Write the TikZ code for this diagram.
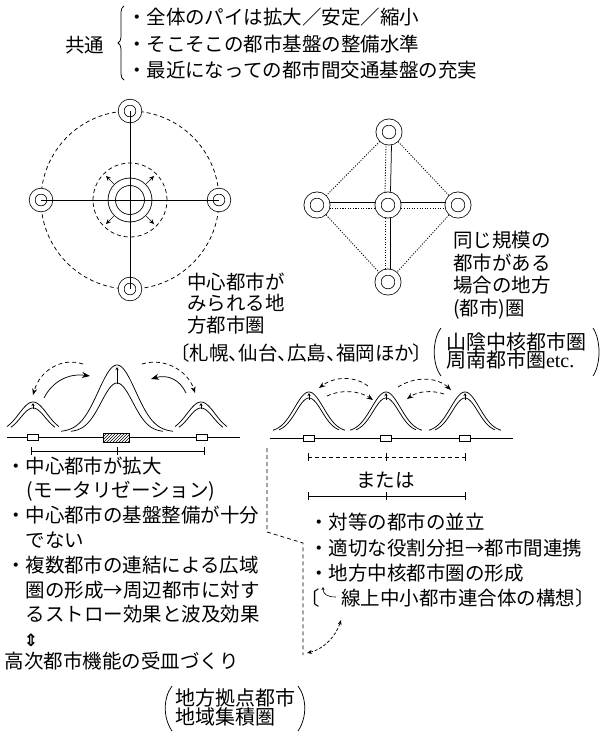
\documentclass[tikz,border=0pt]{standalone}
\usepackage{fontspec}
\setmainfont{Noto Sans CJK JP}
\newfontfamily\jppalt{Noto Sans CJK JP}[RawFeature=+palt]
\newfontfamily\latfont{Liberation Serif}
\newfontfamily\symfont{DejaVu Sans}
\usetikzlibrary{arrows.meta,decorations.pathreplacing,patterns,calc}
\begin{document}
\begin{tikzpicture}[x=1pt,y=-1pt,line width=0.75pt,
  every node/.style={inner sep=0pt,outer sep=0pt},
  txt/.style={anchor=base west,font=\fontsize{19.5}{22}\selectfont},
  ptxt/.style={anchor=base west,font=\fontsize{20}{20}\selectfont},
  ring/.style={circle,draw,double,fill=white,line width=0.75pt},
  satring/.style={ring,minimum size=17.7pt,double distance=5pt,outer sep=3.2pt},
  cenring/.style={ring,minimum size=36.5pt,double distance=6.6pt,line width=0.8pt},
  dring/.style={ring,minimum size=20pt,double distance=5.3pt,outer sep=3.3pt},
  dsh/.style={dash pattern=on 4pt off 3pt},
  dotline/.style={line width=0.85pt,dash pattern=on 1.1pt off 1.5pt},
  bigtip/.style={-{Stealth[length=8pt,width=6pt]}},
  dtip/.style={-{Stealth[length=6.5pt,width=5pt]}},
  tinytip/.style={-{Stealth[length=3pt,width=3pt]}},
  radtip/.style={-{Stealth[length=5pt,width=4.5pt]}},
  smallrect/.style={draw,fill=white,minimum width=11pt,minimum height=6pt,line width=0.6pt},
  hatchrect/.style={draw,preaction={fill=white},pattern=north east lines,minimum width=26pt,minimum height=9pt,line width=0.6pt}
]
\useasboundingbox (0,0) rectangle (601,732);

% ---------- top text ----------
\node[txt] (kyotsu) at (65,52) {共通};
\draw[decorate,decoration={brace,amplitude=6pt}] (124,80) -- (124,6);
\node[txt] (t1) at (127,24) {・全体のパイは拡大／安定／縮小};
\node[txt] (t2) at (127,51) {・そこそこの都市基盤の整備水準};
\node[txt] (t3) at (127,77) {・最近になっての都市間交通基盤の充実};

% ---------- left radial diagram ----------
\draw[dsh] (130,200) circle[radius=89pt];
\draw[dsh] (130,200) circle[radius=37pt];
\node[cenring] (lc) at (130,200) {};
\node[satring] (lt) at (130,111) {};
\node[satring] (ll) at (41,200) {};
\node[satring] (lr) at (219,200) {};
\node[satring] (lb) at (130,289) {};
\draw (lt.center) -- (lb.center);
\draw (ll.center) -- (lr.center);
\foreach \a in {45,135,225,315}
  \draw[radtip,line width=0.6pt] ($(lc.center)+(\a:23pt)$) -- ($(lc.center)+(\a:34pt)$);

% ---------- right diamond diagram ----------
\node[dring] (dt) at (389,132) {};
\node[dring] (dl) at (317,205) {};
\node[dring] (dc) at (388,205) {};
\node[dring] (dr) at (458,205) {};
\node[dring] (db) at (388,282) {};
\draw ([xshift=2.5pt]dc.north) -- ([xshift=2.5pt]dt.south);
\draw[dotline] ([xshift=-3pt]dc.north) -- ([xshift=-3pt]dt.south);
\draw ([xshift=2.5pt]dc.south) -- ([xshift=2.5pt]db.north);
\draw[dotline] ([xshift=-3pt]dc.south) -- ([xshift=-3pt]db.north);
\draw ([yshift=3pt]dc.west) -- ([yshift=3pt]dl.east);
\draw[dotline] ([yshift=-3pt]dc.west) -- ([yshift=-3pt]dl.east);
\draw ([yshift=3pt]dc.east) -- ([yshift=3pt]dr.west);
\draw[dotline] ([yshift=-3pt]dc.east) -- ([yshift=-3pt]dr.west);
\draw[dotline] (dt) -- (dl);
\draw[dotline] (dt) -- (dr);
\draw[dotline] (dl) -- (db);
\draw[dotline] (dr) -- (db);

% ---------- labels ----------
\node[txt] (la1) at (187,289) {中心都市が};
\node[txt] (la2) at (187,310) {みられる地};
\node[txt] (la3) at (187,332) {方都市圏};
\node[txt,font=\jppalt\fontsize{19.5}{22}\selectfont] (la4) at (180,360) {〔札幌、仙台、広島、福岡ほか〕};
\node[txt] (ra1) at (453,247) {同じ規模の};
\node[txt] (ra2) at (453,270) {都市がある};
\node[txt] (ra3) at (453,292) {場合の地方};
\node[txt] (ra4) at (453,315) {(都市)圏};
\node[ptxt] (san1) at (446,349) {山陰中核都市圏};
\node[ptxt] (san2) at (446,367) {周南都市圏{\latfont etc.}};
\draw (441,328) .. controls (432,340) and (432,364) .. (441,376);
\draw (593,328) .. controls (601,340) and (601,364) .. (593,376);

% ---------- left waves ----------
\draw (7,437) -- (240,437);
\draw plot[smooth,domain=61:173,samples=60] (\x,{432-67*exp(-((\x-117)^2)/700)});
\draw plot[smooth,domain=71:163,samples=60] (\x,{432-49*exp(-((\x-117)^2)/500)});
\foreach \c in {33,201}{
  \draw plot[smooth,domain=\c-26:\c+26,samples=40] (\x,{432-30*exp(-((\x-\c)^2)/396)});
  \draw plot[smooth,domain=\c-22:\c+22,samples=40] (\x,{432-24*exp(-((\x-\c)^2)/300)});
  \draw[tinytip,line width=0.6pt] (\c,409) -- (\c,403);
}
\draw[tinytip,line width=0.6pt] (117,384) -- (117,367);
\node[smallrect] (r1) at (33,437) {};
\node[hatchrect] (r2) at (116,437.5) {};
\node[smallrect] (r3) at (202,437) {};
\draw[dsh,dtip] (83,364) .. controls (62,357) and (40,370) .. (33,395);
\draw[bigtip] (44,398) .. controls (52,382) and (68,373) .. (90,376);
\draw[bigtip] (186,393) .. controls (180,380) and (168,374) .. (151,379);
\draw[dsh,dtip] (142,364) .. controls (165,357) and (188,371) .. (195,393);
\draw (31,451) -- (204,451);
\foreach \x in {31,117,204} \draw (\x,447) -- (\x,455);

% ---------- right waves ----------
\draw (270,438) -- (513,438);
\foreach \c in {309,386,465}{
  \draw plot[smooth,domain=\c-36:\c+36,samples=50] (\x,{432-40*exp(-((\x-\c)^2)/417)});
  \draw plot[smooth,domain=\c-30:\c+30,samples=50] (\x,{432-34*exp(-((\x-\c)^2)/330)});
  \draw[tinytip,line width=0.6pt] (\c,400) -- (\c,393);
}
\node[smallrect] (q1) at (309,438) {};
\node[smallrect] (q2) at (386,438) {};
\node[smallrect] (q3) at (465,438) {};
\draw[dsh,dtip] (368,386) .. controls (355,376) and (335,376) .. (319,388);
\draw[dsh,dtip] (327,396) .. controls (342,389) and (360,391) .. (373,400);
\draw[dsh,dtip] (398,387) .. controls (415,376) and (437,377) .. (451,390);
\draw[dsh,dtip] (444,394) .. controls (432,390) and (418,391) .. (407,399);
\draw[dsh] (308,457) -- (465,457);
\foreach \x in {308,386,465} \draw (\x,453) -- (\x,461);
\node[txt] (mataha) at (356,487) {または};
\draw (308,496) -- (465,496);
\foreach \x in {308,386,465} \draw (\x,492) -- (\x,500);

% ---------- dashed link ----------
\coordinate (p0) at (267,448);
\coordinate (p1) at (267,532);
\coordinate (p2) at (303,543);
\coordinate (p3) at (303,655);
\coordinate (p4) at (341,620);
\draw[dsh] (p0) -- (p1) -- (p2) -- (p3);
\draw[densely dashed,{Stealth[length=5pt,width=4pt]}-{Stealth[length=5pt,width=4pt]}] (307,653) .. controls (324,649) and (336,636) .. (p4);

% ---------- bottom-left text ----------
\node[txt] (b1) at (6,473) {・中心都市が拡大};
\node[txt] (b2) at (27,497) {(モータリゼーション)};
\node[txt] (b3) at (6,522) {・中心都市の基盤整備が十分};
\node[txt] (b4) at (26,547) {でない};
\node[txt] (b5) at (6,572) {・複数都市の連結による広域};
\node[txt] (b6) at (26,597) {圏の形成→周辺都市に対す};
\node[txt] (b7) at (26,621) {るストロー効果と波及効果};
\node[font=\symfont\bfseries\fontsize{17}{17}\selectfont] (ud) at (31,640) {⇕};
\node[txt] (b8) at (5,668) {高次都市機能の受皿づくり};
\node[ptxt] (chi1) at (175,705.5) {地方拠点都市};
\node[ptxt] (chi2) at (175,724.5) {地域集積圏};
\draw (172,686) .. controls (163,698) and (163,718) .. (172,731);
\draw (298,686) .. controls (307,698) and (307,718) .. (298,731);

% ---------- bottom-right text ----------
\node[txt] (c1) at (309,529) {・対等の都市の並立};
\node[txt] (c2) at (309,555) {・適切な役割分担→都市間連携};
\node[txt] (c3) at (309,580) {・地方中核都市圏の形成};
\node[txt] (c4) at (300,605) {〔\hspace{22pt}線上中小都市連合体の構想〕};
\draw[tinytip,line width=0.6pt] (336,597) .. controls (327,597) and (323,594) .. (323,587);
\end{tikzpicture}
\end{document}
